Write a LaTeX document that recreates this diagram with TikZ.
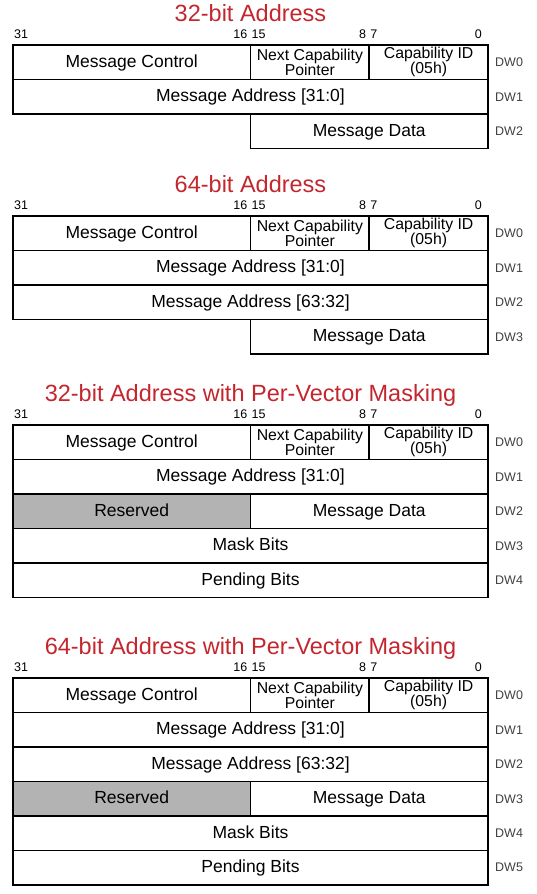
\documentclass[tikz,border=0pt]{standalone}
\usepackage{fontspec}
\setmainfont{Liberation Sans}
\usepackage{tikz}
\usetikzlibrary{positioning}
\definecolor{titlered}{HTML}{C4262E}
\definecolor{rsvdgray}{HTML}{B3B3B3}
\definecolor{dwgray}{HTML}{404040}

\begin{document}
\begin{tikzpicture}[
        x=1pt, y=1pt,
        field/.style={rectangle, draw=black, line width=1.7pt, inner sep=0pt, outer sep=0pt, minimum height=34.5pt, align=center, font=\fontsize{17.5}{20}\selectfont},
        full/.style={field, minimum width=475pt, text height=11pt, text depth=1.5pt},
        half/.style={field, minimum width=237.5pt, text height=11pt, text depth=1.5pt},
        quarter/.style={field, minimum width=118.75pt, font=\fontsize{15.8}{15}\selectfont},
        rsvd/.style={half, fill=rsvdgray},
        title/.style={text=titlered, inner sep=0pt, anchor=base, font=\fontsize{23.5}{26}\selectfont},
        bitnum/.style={inner sep=0pt, font=\fontsize{12.5}{14}\selectfont},
        dword/.style={inner sep=0pt, text=dwgray, font=\fontsize{12.5}{14}\selectfont}
    ]
        \useasboundingbox (0,0) rectangle (537,-894);

        % 32-bit Address
        \node[title] (t1title) at (250.5,-21) {32-bit Address};
        \node[half, anchor=north west] (t1mc) at (13,-45) {Message Control};
        \node[quarter, right=0pt of t1mc] (t1np) {Next Capability\\Pointer};
        \node[quarter, right=0pt of t1np] (t1id) {Capability ID\\(05h)};
        \node[full, anchor=north west] (t1ma) at (t1mc.south west) {Message Address [31:0]};
        \node[half, anchor=north east] (t1md) at (t1ma.south east) {Message Data};
        \node[bitnum, above right=6pt and 1pt of t1mc.north west] {31};
        \node[bitnum, above left=6pt and 3pt of t1mc.north east] {16};
        \node[bitnum, above right=6pt and 1pt of t1np.north west] {15};
        \node[bitnum, above left=6pt and 3pt of t1np.north east] {8};
        \node[bitnum, above right=6pt and 1pt of t1id.north west] {7};
        \node[bitnum, above left=6pt and 6pt of t1id.north east] {0};
        \node[dword, right=7pt of t1id] {DW0};
        \node[dword, right=7pt of t1ma] {DW1};
        \node[dword, right=7pt of t1md] {DW2};

        % 64-bit Address
        \node[title] (t2title) at (250.5,-192) {64-bit Address};
        \node[half, anchor=north west] (t2mc) at (13,-216) {Message Control};
        \node[quarter, right=0pt of t2mc] (t2np) {Next Capability\\Pointer};
        \node[quarter, right=0pt of t2np] (t2id) {Capability ID\\(05h)};
        \node[full, anchor=north west] (t2malo) at (t2mc.south west) {Message Address [31:0]};
        \node[full, anchor=north west] (t2mahi) at (t2malo.south west) {Message Address [63:32]};
        \node[half, anchor=north east] (t2md) at (t2mahi.south east) {Message Data};
        \node[bitnum, above right=6pt and 1pt of t2mc.north west] {31};
        \node[bitnum, above left=6pt and 3pt of t2mc.north east] {16};
        \node[bitnum, above right=6pt and 1pt of t2np.north west] {15};
        \node[bitnum, above left=6pt and 3pt of t2np.north east] {8};
        \node[bitnum, above right=6pt and 1pt of t2id.north west] {7};
        \node[bitnum, above left=6pt and 6pt of t2id.north east] {0};
        \node[dword, right=7pt of t2id] {DW0};
        \node[dword, right=7pt of t2malo] {DW1};
        \node[dword, right=7pt of t2mahi] {DW2};
        \node[dword, right=7pt of t2md] {DW3};

        % 32-bit Address with Per-Vector Masking
        \node[title] (t3title) at (250.5,-401) {32-bit Address with Per-Vector Masking};
        \node[half, anchor=north west] (t3mc) at (13,-425) {Message Control};
        \node[quarter, right=0pt of t3mc] (t3np) {Next Capability\\Pointer};
        \node[quarter, right=0pt of t3np] (t3id) {Capability ID\\(05h)};
        \node[full, anchor=north west] (t3ma) at (t3mc.south west) {Message Address [31:0]};
        \node[rsvd, anchor=north west] (t3rs) at (t3ma.south west) {Reserved};
        \node[half, right=0pt of t3rs] (t3md) {Message Data};
        \node[full, anchor=north west] (t3mask) at (t3rs.south west) {Mask Bits};
        \node[full, anchor=north west] (t3pend) at (t3mask.south west) {Pending Bits};
        \node[bitnum, above right=6pt and 1pt of t3mc.north west] {31};
        \node[bitnum, above left=6pt and 3pt of t3mc.north east] {16};
        \node[bitnum, above right=6pt and 1pt of t3np.north west] {15};
        \node[bitnum, above left=6pt and 3pt of t3np.north east] {8};
        \node[bitnum, above right=6pt and 1pt of t3id.north west] {7};
        \node[bitnum, above left=6pt and 6pt of t3id.north east] {0};
        \node[dword, right=7pt of t3id] {DW0};
        \node[dword, right=7pt of t3ma] {DW1};
        \node[dword, right=7pt of t3md] {DW2};
        \node[dword, right=7pt of t3mask] {DW3};
        \node[dword, right=7pt of t3pend] {DW4};

        % 64-bit Address with Per-Vector Masking
        \node[title] (t4title) at (250.5,-654) {64-bit Address with Per-Vector Masking};
        \node[half, anchor=north west] (t4mc) at (13,-678) {Message Control};
        \node[quarter, right=0pt of t4mc] (t4np) {Next Capability\\Pointer};
        \node[quarter, right=0pt of t4np] (t4id) {Capability ID\\(05h)};
        \node[full, anchor=north west] (t4malo) at (t4mc.south west) {Message Address [31:0]};
        \node[full, anchor=north west] (t4mahi) at (t4malo.south west) {Message Address [63:32]};
        \node[rsvd, anchor=north west] (t4rs) at (t4mahi.south west) {Reserved};
        \node[half, right=0pt of t4rs] (t4md) {Message Data};
        \node[full, anchor=north west] (t4mask) at (t4rs.south west) {Mask Bits};
        \node[full, anchor=north west] (t4pend) at (t4mask.south west) {Pending Bits};
        \node[bitnum, above right=6pt and 1pt of t4mc.north west] {31};
        \node[bitnum, above left=6pt and 3pt of t4mc.north east] {16};
        \node[bitnum, above right=6pt and 1pt of t4np.north west] {15};
        \node[bitnum, above left=6pt and 3pt of t4np.north east] {8};
        \node[bitnum, above right=6pt and 1pt of t4id.north west] {7};
        \node[bitnum, above left=6pt and 6pt of t4id.north east] {0};
        \node[dword, right=7pt of t4id] {DW0};
        \node[dword, right=7pt of t4malo] {DW1};
        \node[dword, right=7pt of t4mahi] {DW2};
        \node[dword, right=7pt of t4md] {DW3};
        \node[dword, right=7pt of t4mask] {DW4};
        \node[dword, right=7pt of t4pend] {DW5};
    \end{tikzpicture}
\end{document}
